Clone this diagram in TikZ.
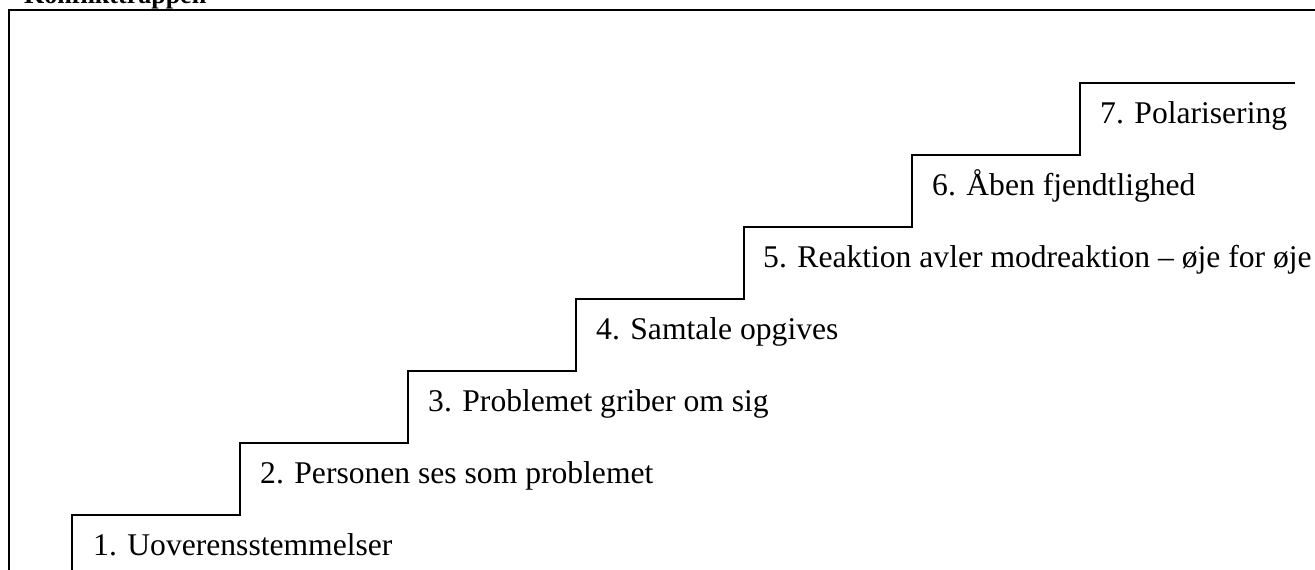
\documentclass[tikz,border=0pt]{standalone}
\usepackage{fontspec}
\setmainfont{Liberation Serif}
\begin{document}
\begin{tikzpicture}[x=1pt,y=-1pt,
  frameline/.style={line width=2pt},
  stair/.style={line width=1.5pt, line join=miter},
  lbl/.style={anchor=base west, inner sep=0pt, font=\fontsize{31.6}{38}\selectfont},
  titlestyle/.style={anchor=base west, inner sep=0pt, font=\bfseries\fontsize{26}{30}\selectfont}]
\useasboundingbox (0,0) rectangle (1315,570);
\clip (0,0) rectangle (1315,570);
\fill[white] (0,0) rectangle (1315,570);
\coordinate (fA) at (8.5,600);
\coordinate (fB) at (8.5,10);
\coordinate (fC) at (1340,10);
\draw[frameline] (fA) -- (fB) -- (fC);
\node[titlestyle] (title) at (24,4) {Konflikttrappen};
\coordinate (s0) at (72,580);
\coordinate (s1) at (72,515);
\coordinate (s2) at (240,443);
\coordinate (s3) at (408,371);
\coordinate (s4) at (576,299);
\coordinate (s5) at (744,227);
\coordinate (s6) at (912,155);
\coordinate (s7) at (1080,83);
\coordinate (send) at (1295,83);
\draw[stair] (s0) -- (s1) -| (s2) -| (s3) -| (s4) -| (s5) -| (s6) -| (s7) -- (send);
\node[lbl] (l1) at (93,555) {1. Uoverensstemmelser};
\node[lbl] (l2) at (260,483) {2. Personen ses som problemet};
\node[lbl] (l3) at (428,411) {3. Problemet griber om sig};
\node[lbl] (l4) at (596,339) {4. Samtale opgives};
\node[lbl] (l5) at (763,267) {5. Reaktion avler modreaktion – øje for øje};
\node[lbl] (l6) at (932,195) {6. Åben fjendtlighed};
\node[lbl] (l7) at (1100,123) {7. Polarisering};
\end{tikzpicture}
\end{document}
